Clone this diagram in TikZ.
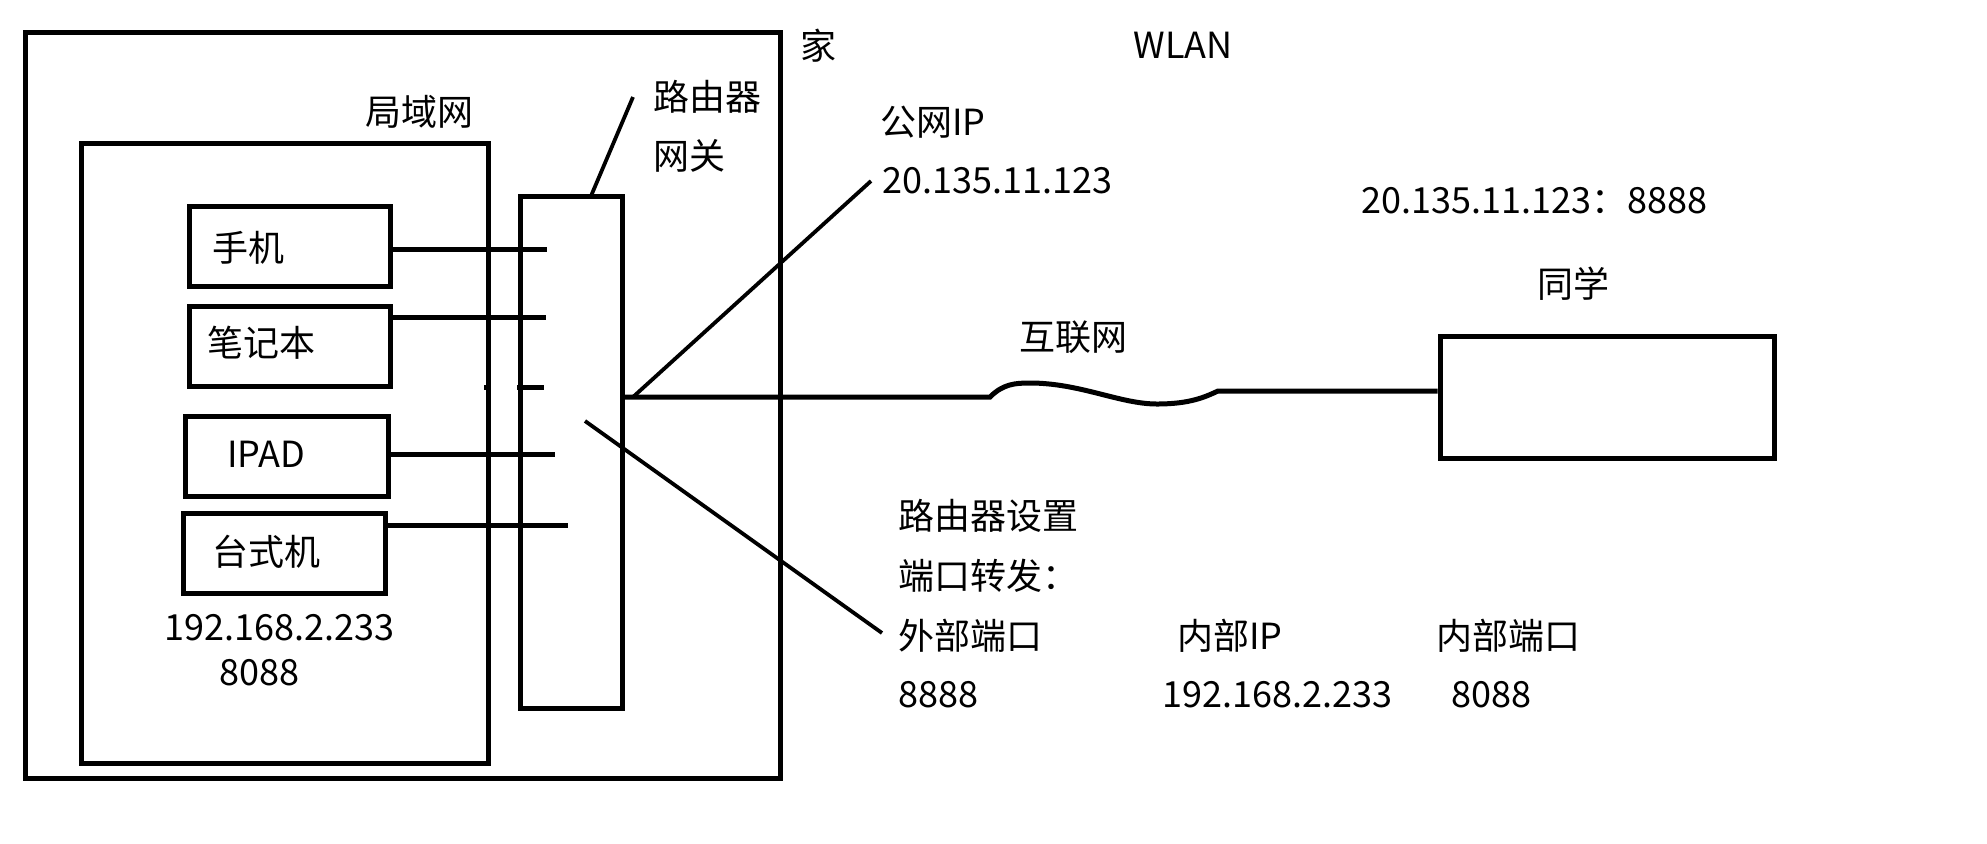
\documentclass[tikz,border=0pt]{standalone}
\usepackage{fontspec}
\setmainfont{Noto Sans CJK SC}
\begin{document}
\begin{tikzpicture}[x=0.5pt,y=-0.5pt,
  boxst/.style={draw, line width=2.5pt, inner sep=0pt, rectangle},
  conn/.style={line width=2.5pt},
  thin/.style={line width=1.9pt},
  lbl/.style={inner sep=0pt, anchor=base west, font=\fontsize{18pt}{22pt}\selectfont}]
\useasboundingbox (0,0) rectangle (1987,843);
\fill[white] (0,0) rectangle (1987,843);
% boxes
\node[boxst, minimum width=377.25pt, minimum height=373pt] (home) at (402.75,405) {};
\node[boxst, minimum width=203.2pt, minimum height=310pt] (lan) at (284.8,453) {};
\node[boxst, minimum width=51pt, minimum height=256pt] (router) at (571,452) {};
\node[boxst, minimum width=100.5pt, minimum height=40pt] (phone) at (289.5,246) {};
\node[boxst, minimum width=100.5pt, minimum height=40pt] (laptop) at (289.5,346) {};
\node[boxst, minimum width=101.5pt, minimum height=40pt] (ipad) at (286.5,456) {};
\node[boxst, minimum width=101pt, minimum height=40pt] (desk) at (284,553) {};
\node[boxst, minimum width=167pt, minimum height=61pt] (friend) at (1607,397) {};
% labels
\node[lbl] (tjia) at (800,59) {家};
\node[lbl] (twlan) at (1133,58) {WLAN};
\node[lbl] (tlan) at (365,125) {局域网};
\node[lbl] (trouter) at (653,110) {路由器};
\node[lbl] (tgate) at (653,169) {网关};
\node[lbl] (tpub) at (880,135) {公网IP};
\node[lbl] (tpubip) at (882,193) {20.135.11.123};
\node[lbl] (tpubport) at (1361,213) {20.135.11.123：8888};
\node[lbl] (tfriend) at (1537,297) {同学};
\node[lbl] (tnet) at (1019,350) {互联网};
\node[lbl] (tphone) at (212,261) {手机};
\node[lbl] (tlaptop) at (207,356) {笔记本};
\node[lbl] (tipad) at (227,467) {IPAD};
\node[lbl] (tdesk) at (212,565) {台式机};
\node[lbl] (tlip) at (164,640) {192.168.2.233};
\node[lbl] (tlport) at (219,685) {8088};
\node[lbl] (tset) at (898,529) {路由器设置};
\node[lbl] (tfwd) at (898,589) {端口转发：};
\node[lbl] (text) at (898,649) {外部端口};
\node[lbl] (tinip) at (1177,649) {内部IP};
\node[lbl] (tinport) at (1436,649) {内部端口};
\node[lbl] (vext) at (898,707) {8888};
\node[lbl] (vinip) at (1162,707) {192.168.2.233};
\node[lbl] (vinport) at (1451,707) {8088};
% connector end points
\coordinate (p1) at (547,249);
\coordinate (p2) at (546,317);
\coordinate (p3) at (555,454);
\coordinate (p4) at (568,525);
\coordinate (da) at (484,387);
\coordinate (db) at (491,387);
\coordinate (dc) at (517,387);
\coordinate (dd) at (544,387);
\coordinate (rl1) at (591,196);
\coordinate (rl2) at (633,97);
\coordinate (w0) at (622,397);
\coordinate (w1) at (990,397);
\coordinate (w2) at (1030,383);
\coordinate (w3) at (1157,404);
\coordinate (w4) at (1218,391);
\coordinate (u1) at (633,397);
\coordinate (u2) at (871,181);
\coordinate (l1) at (585,421);
\coordinate (l2) at (882,633);
% connectors
\draw[conn] (phone.east |- p1) -- (p1);
\draw[conn] (laptop.east |- p2) -- (p2);
\draw[conn] (ipad.east |- p3) -- (p3);
\draw[conn] (desk.east |- p4) -- (p4);
\draw[conn] (da) -- (db);
\draw[conn] (dc) -- (dd);
\draw[thin] (rl1) -- (rl2);
\draw[conn] (w0) -- (w1) .. controls (1003,384) and (1015,383) .. (w2)
  .. controls (1080,383) and (1120,404) .. (w3)
  .. controls (1190,404) and (1205,397) .. (w4) -- (friend.west |- w4);
\draw[thin] (u1) -- (u2);
\draw[thin] (l1) -- (l2);
\end{tikzpicture}
\end{document}
